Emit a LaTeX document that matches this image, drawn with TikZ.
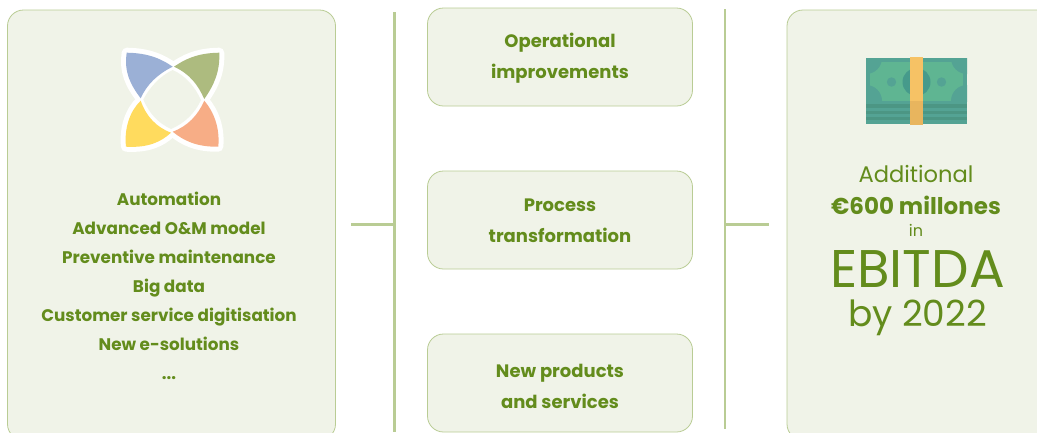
\documentclass[tikz,border=0pt]{standalone}
\usepackage{fontspec}
\setmainfont{Poppins}
\definecolor{panel}{HTML}{F0F3E8}
\definecolor{edge}{HTML}{B9CC94}
\definecolor{oli}{HTML}{638C1C}
\definecolor{pblue}{HTML}{9BB0D6}
\definecolor{pgreen}{HTML}{ADBB7F}
\definecolor{porange}{HTML}{F7AD86}
\definecolor{pyellow}{HTML}{FFDB5E}
\definecolor{nbase}{HTML}{54A394}
\definecolor{nlight}{HTML}{5FB592}
\definecolor{nstripe}{HTML}{4C9684}
\definecolor{ncirc}{HTML}{469A8B}
\definecolor{bandA}{HTML}{F6C265}
\definecolor{bandB}{HTML}{E8B55E}
\tikzset{
  x=1pt,y=-1pt,
  panelbox/.style={draw=edge,fill=panel,line width=0.8pt,rounded corners=16pt,inner sep=0pt},
  rulestroke/.style={draw=edge,line width=2.2pt},
  boxtext/.style={align=center,text=oli,font=\fontsize{18}{31}\selectfont\bfseries},
  listtext/.style={align=center,text=oli,font=\fontsize{16.8}{28.9}\selectfont\bfseries},
  sidetext/.style={text=oli,inner sep=0pt,anchor=base,text height=7.2pt,text depth=0pt},
  petalline/.style={draw=white,fill=white,line width=10pt,line join=round}
}
\begin{document}
\begin{tikzpicture}
\useasboundingbox (0,0) rectangle (1037,432);
\fill[white] (0,0) rectangle (1037,432);
\begin{scope}
\clip (0,0) rectangle (1037,432);
\node[panelbox,minimum width=328pt,minimum height=430pt] (left) at (171.5,225) {};
\node[panelbox,minimum width=265pt,minimum height=98pt] (b1) at (560,57) {};
\node[panelbox,minimum width=265pt,minimum height=98pt] (b2) at (560,220) {};
\node[panelbox,minimum width=265pt,minimum height=98pt] (b3) at (560,383) {};
\node[panelbox,minimum width=300pt,minimum height=430pt] (right) at (937,225) {};
\end{scope}
\coordinate (v1t) at (394.5,12); \coordinate (v1b) at (394.5,432);
\coordinate (v2t) at (725,9); \coordinate (v2b) at (725,429);
\coordinate (h1) at (351,224.5); \coordinate (h2) at (394.5,224.5);
\coordinate (h3) at (725,224.5); \coordinate (h4) at (769,224.5);
\draw[rulestroke] (v1t) -- (v1b);
\draw[rulestroke] (v2t) -- (v2b);
\draw[rulestroke] (h1) -- (h2);
\draw[rulestroke] (h3) -- (h4);
% logo
\def\pA{(126.7,52.7) .. controls (150,53) and (163,60) .. (172.7,66.7) .. controls (158,74) and (147,84) .. (140.7,98.3) .. controls (130,84) and (124,72) .. cycle}
\def\pB{(219.3,52.7) .. controls (196,53) and (184,60) .. (174,66.7) .. controls (190,74) and (198,85) .. (204.3,99) .. controls (214,85) and (220,72) .. cycle}
\def\pC{(218.3,146.7) .. controls (197,147) and (184,141) .. (172.7,131.7) .. controls (188,126) and (198,115) .. (204.3,100.7) .. controls (214,112) and (220,128) .. cycle}
\def\pD{(126,146.7) .. controls (148,148) and (161,142) .. (171,132.7) .. controls (156,127) and (146,116) .. (140.7,100.7) .. controls (130,111) and (124,128) .. cycle}
\path[petalline] \pA;
\path[petalline] \pB;
\path[petalline] \pC;
\path[petalline] \pD;
\fill[panel] (172.7,70) .. controls (186,76) and (195,87) .. (201,100) .. controls (195,113) and (185,123) .. (171,129) .. controls (158,123) and (149,113) .. (143.3,99.5) .. controls (150,87) and (160,76) .. cycle;
\fill[pblue] \pA; \fill[pgreen] \pB; \fill[porange] \pC; \fill[pyellow] \pD;
% banknote
\fill[nbase] (866,58) rectangle (967,124);
\fill[nlight] (870,62) rectangle (963,101);
\begin{scope}
\clip (866,58) rectangle (967,101);
\foreach \cx/\cy in {866/58,967/58,866/101,967/101}{\fill[nbase] (\cx,\cy) circle (16pt);}
\end{scope}
\fill[nstripe] (866,104) rectangle (967,108);
\fill[nstripe] (866,111) rectangle (967,114);
\fill[nstripe] (866,117) rectangle (967,120);
\fill[ncirc] (916.5,82) circle (14pt);
\fill[nbase] (891.5,82) circle (4.7pt);
\fill[nbase] (941.5,82) circle (4.7pt);
\fill[bandA] (910,57) rectangle (923,101);
\fill[bandB] (910,101) rectangle (923,125);
% texts
\node[boxtext] (t1) at (560,58.5) {Operational\\improvements};
\node[boxtext] (t2) at (560,220.5) {Process\\transformation};
\node[boxtext] (t3) at (560,386.5) {New products\\and services};
\node[listtext,anchor=north] (tl) at (169,189) {Automation\\Advanced O\&M model\\Preventive maintenance\\Big data\\Customer service digitisation\\New e-solutions\\...};
\node[sidetext,font=\fontsize{22.6}{24}\selectfont] (r1) at (916,182.6) {Additional};
\node[sidetext,font=\fontsize{23}{24}\selectfont\bfseries] (r2) at (916,214) {€600 millones};
\node[sidetext,font=\fontsize{16}{18}\selectfont] (r3) at (916,236) {in};
\node[sidetext,font=\fontsize{53}{54}\selectfont] (r4) at (917.5,287) {EBITDA};
\node[sidetext,font=\fontsize{36}{38}\selectfont] (r5) at (917.5,326) {by 2022};
\end{tikzpicture}
\end{document}
